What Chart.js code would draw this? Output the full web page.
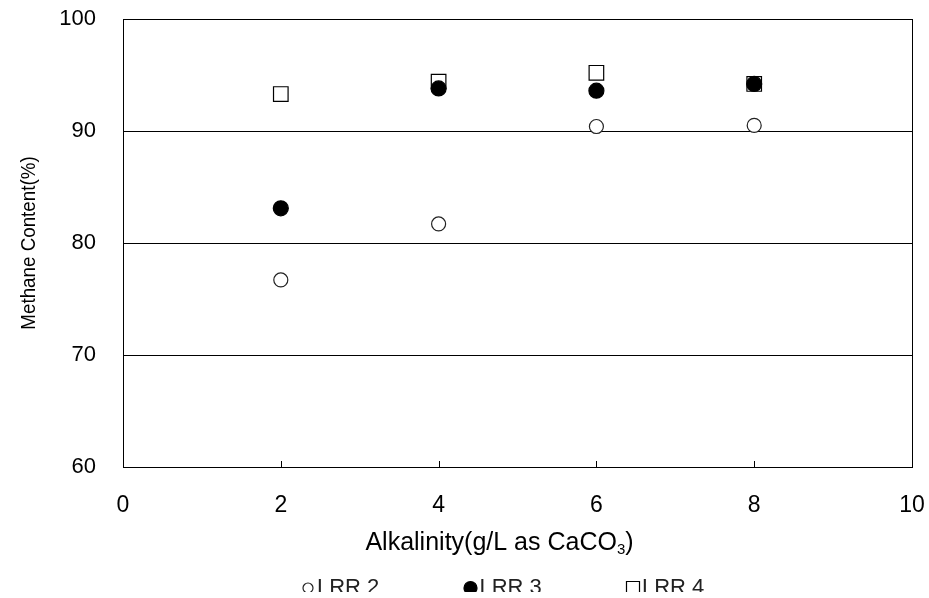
<!DOCTYPE html>
<html><head><meta charset="utf-8">
<script src="https://cdn.jsdelivr.net/npm/chart.js@4"></script>
<style>
html,body{margin:0;padding:0;background:#fff;}
#wrap{width:929px;height:592px;overflow:hidden;position:relative;background:#fff;}
canvas{display:block;}
</style>
</head><body>
<div id="wrap"><canvas id="c" width="929" height="592"></canvas></div>
<script>
// ---- data ----
const alkalinity = [2, 4, 6, 8];
const seriesLabels = ['LRR 2', 'LRR 3', 'LRR 4'];
const lrr2 = [76.7, 81.7, 90.4, 90.5];
const lrr3 = [83.1, 93.8, 93.6, 94.2];
const lrr4 = [93.3, 94.4, 95.2, 94.2];
const xTickValues = [0, 2, 4, 6, 8, 10];
const yTickValues = [60, 70, 80, 90, 100];
const xTitleParts = ['Alkalinity(g/L as CaCO', '3', ')'];
const yTitle = 'Methane Content(%)';

const FONT = "'Liberation Sans', Arial, sans-serif";

function pts(ys) { return alkalinity.map((x, i) => ({ x: x, y: ys[i] })); }

const styles = [
  { pointStyle: 'circle', radius: 7, bg: '#ffffff', border: '#222222', legendRadius: 5 },
  { pointStyle: 'circle', radius: 7.5, bg: '#000000', border: '#000000', legendRadius: 6.5 },
  { pointStyle: 'rect', radius: 10.3, bg: '#ffffff', border: '#000000', legendRadius: 9.2 }
];
const seriesValues = [lrr2, lrr3, lrr4];

const datasets = seriesValues.map((vals, i) => ({
  label: seriesLabels[i],
  data: pts(vals),
  pointStyle: styles[i].pointStyle,
  pointRadius: styles[i].radius,
  pointHoverRadius: styles[i].radius,
  pointBackgroundColor: styles[i].bg,
  pointBorderColor: styles[i].border,
  pointBorderWidth: 1.2,
  showLine: false
}));

const innerTicks = {
  id: 'innerTicks',
  afterDraw(chart) {
    const ctx = chart.ctx, xs = chart.scales.x, area = chart.chartArea;
    ctx.save();
    ctx.strokeStyle = '#000';
    ctx.lineWidth = 1;
    xTickValues.slice(1, -1).forEach(v => {
      const px = Math.round(xs.getPixelForValue(v)) + 0.5;
      ctx.beginPath();
      ctx.moveTo(px, area.bottom - 6);
      ctx.lineTo(px, area.bottom);
      ctx.stroke();
    });
    ctx.restore();
  }
};

// axis titles (x title with a real subscript)
const titlesPlugin = {
  id: 'titlesPlugin',
  afterDraw(chart) {
    const ctx = chart.ctx, area = chart.chartArea;
    const mainFont = '25px ' + FONT, subFont = '15px ' + FONT;
    ctx.save();
    ctx.fillStyle = '#000';
    ctx.textBaseline = 'alphabetic';
    ctx.textAlign = 'left';
    ctx.font = mainFont; const w0 = ctx.measureText(xTitleParts[0]).width;
    const w2 = ctx.measureText(xTitleParts[2]).width;
    ctx.font = subFont; const w1 = ctx.measureText(xTitleParts[1]).width;
    const total = w0 + w1 + w2;
    const cx = (area.left + area.right) / 2 - 18;
    let x = cx - total / 2;
    const baseY = area.bottom + 83;
    ctx.font = mainFont; ctx.fillText(xTitleParts[0], x, baseY); x += w0;
    ctx.font = subFont; ctx.fillText(xTitleParts[1], x, baseY + 4); x += w1;
    ctx.font = mainFont; ctx.fillText(xTitleParts[2], x, baseY);
    ctx.restore();

    ctx.save();
    ctx.fillStyle = '#000';
    ctx.translate(29, (area.top + area.bottom) / 2);
    ctx.rotate(-Math.PI / 2);
    ctx.scale(1, 1.12);
    ctx.font = '18.8px ' + FONT;
    ctx.textAlign = 'center';
    ctx.textBaseline = 'middle';
    ctx.fillText(yTitle, 0, 0);
    ctx.restore();
  }
};

const customLegend = {
  id: 'customLegend',
  afterDraw(chart) {
    const ctx = chart.ctx;
    const startX = 308, spacing = 162.5, markerY = 588, textY = 594;
    ctx.save();
    chart.data.datasets.forEach((ds, i) => {
      const cx = startX + i * spacing;
      ctx.fillStyle = styles[i].bg;
      ctx.strokeStyle = styles[i].border;
      ctx.lineWidth = 1.2;
      Chart.helpers.drawPoint(ctx, { pointStyle: styles[i].pointStyle, radius: styles[i].legendRadius, rotation: 0, borderWidth: 1.2 }, cx, markerY);
      ctx.fillStyle = '#222';
      ctx.font = '22px ' + FONT;
      ctx.textAlign = 'left';
      ctx.textBaseline = 'alphabetic';
      ctx.fillText(ds.label, cx + 9, textY);
    });
    ctx.restore();
  }
};

new Chart(document.getElementById('c'), {
  type: 'scatter',
  data: { datasets: datasets },
  plugins: [innerTicks, titlesPlugin, customLegend],
  options: {
    responsive: false,
    devicePixelRatio: 1,
    animation: false,
    layout: { padding: { top: 19, right: 17, left: 0, bottom: 0 } },
    plugins: { legend: { display: false }, tooltip: { enabled: false } },
    scales: {
      x: {
        type: 'linear',
        min: 0, max: 10,
        afterBuildTicks(scale) { scale.ticks = xTickValues.map(v => ({ value: v })); },
        afterFit(scale) { scale.height = 125; scale.paddingLeft = 0; scale.paddingRight = 0; },
        ticks: { font: { family: FONT, size: 23 }, color: '#000', padding: 25, maxRotation: 0 },
        grid: {
          drawTicks: false,
          color: ctx => (ctx.tick && ctx.tick.value === 10 ? '#000' : 'rgba(0,0,0,0)'),
          lineWidth: 1
        },
        border: { display: true, color: '#000', width: 1 },
        title: { display: false }
      },
      y: {
        type: 'linear',
        min: 60, max: 100,
        afterBuildTicks(scale) { scale.ticks = yTickValues.map(v => ({ value: v })); },
        afterFit(scale) { scale.width = 123; scale.paddingTop = 0; scale.paddingBottom = 0; },
        ticks: { font: { family: FONT, size: 22 }, color: '#000', padding: 27 },
        grid: { drawTicks: false, color: '#000', lineWidth: 1 },
        border: { display: true, color: '#000', width: 1 },
        title: { display: false }
      }
    }
  }
});
</script>
</body></html>
